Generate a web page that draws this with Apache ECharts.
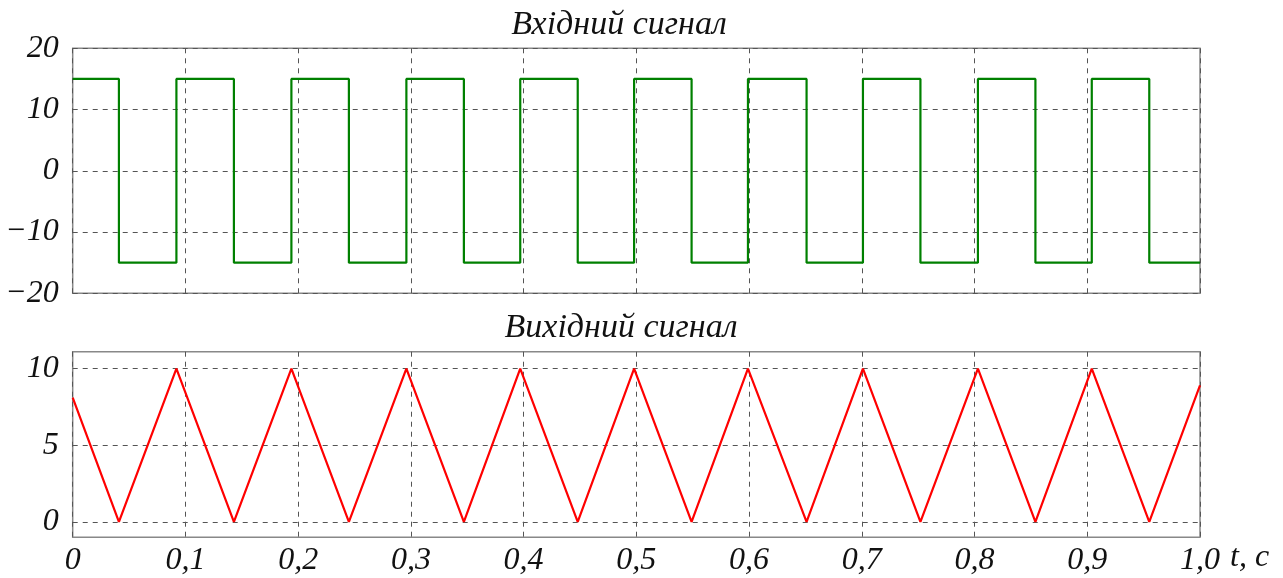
<!DOCTYPE html>
<html>
<head>
<meta charset="utf-8">
<script src="https://cdn.jsdelivr.net/npm/echarts@6/dist/echarts.min.js"></script>
<style>
html,body{margin:0;padding:0;background:#fff;}
#c{width:1283px;height:578px;}
</style>
</head>
<body>
<div id="c"></div>
<script>
// ---- data ----
const inputTimes  = [0, 0.041, 0.092, 0.143, 0.194, 0.245, 0.296, 0.347, 0.397, 0.448, 0.498, 0.549, 0.599, 0.651, 0.701, 0.752, 0.803, 0.854, 0.904, 0.955, 1.0];
const inputValues = [15, -15, 15, -15, 15, -15, 15, -15, 15, -15, 15, -15, 15, -15, 15, -15, 15, -15, 15, -15, -15];
const outputTimes  = [0, 0.041, 0.092, 0.143, 0.194, 0.245, 0.296, 0.347, 0.397, 0.448, 0.498, 0.549, 0.599, 0.651, 0.701, 0.752, 0.803, 0.854, 0.904, 0.955, 1.0];
const outputValues = [8.1, 0, 10, 0, 10, 0, 10, 0, 10, 0, 10, 0, 10, 0, 10, 0, 10, 0, 10, 0, 8.9];
const xTickLabels = ['0', '0,1', '0,2', '0,3', '0,4', '0,5', '0,6', '0,7', '0,8', '0,9', '1,0'];
const topYTicks = [-20, -10, 0, 10, 20];
const topYTickLabels = ['\u221220', '\u221210', '0', '10', '20'];
const bottomYTicks = [0, 5, 10];
const bottomYTickLabels = ['0', '5', '10'];
const titleTop = 'Вхідний сигнал';
const titleBottom = 'Вихідний сигнал';
const xUnitLabel = 't, c';

const FONT = '"Liberation Serif", "DejaVu Serif", serif';
const lbl = {fontFamily: FONT, fontStyle: 'italic', fontSize: 32, color: '#111'};
const gridLine = {show: true, lineStyle: {color: '#555', width: 1, type: [5, 5]}};

const chart = echarts.init(document.getElementById('c'), null, {renderer: 'canvas'});
chart.setOption({
  animation: false,
  backgroundColor: '#fff',
  grid: [
    {left: 72.7, right: 83, top: 48.3, height: 245, show: true, borderColor: '#888', borderWidth: 1.5, backgroundColor: 'transparent'},
    {left: 72.7, right: 83, top: 351.7, height: 185.6, show: true, borderColor: '#888', borderWidth: 1.5, backgroundColor: 'transparent'}
  ],
  xAxis: [
    {gridIndex: 0, type: 'value', min: 0, max: 1, interval: 0.1,
     axisLine: {show: false}, axisTick: {show: false}, axisLabel: {show: false}, splitLine: gridLine},
    {gridIndex: 1, type: 'value', min: 0, max: 1, interval: 0.1,
     axisLine: {show: false}, axisTick: {show: false},
     axisLabel: Object.assign({margin: 7, formatter: v => xTickLabels[Math.round(v * 10)]}, lbl),
     splitLine: gridLine}
  ],
  yAxis: [
    {gridIndex: 0, type: 'value', min: -20, max: 20, interval: 10,
     axisLine: {show: false}, axisTick: {show: false},
     axisLabel: Object.assign({margin: 14, formatter: v => topYTickLabels[topYTicks.indexOf(Math.round(v))]}, lbl),
     splitLine: gridLine},
    {gridIndex: 1, type: 'value', min: -1, max: 11.1,
     axisLine: {show: false}, axisTick: {show: false, customValues: bottomYTicks},
     axisLabel: Object.assign({margin: 14, customValues: bottomYTicks, formatter: v => bottomYTickLabels[bottomYTicks.indexOf(Math.round(v))]}, lbl),
     splitLine: gridLine}
  ],
  series: [
    {type: 'line', xAxisIndex: 0, yAxisIndex: 0, step: 'end', showSymbol: false,
     lineStyle: {color: '#008000', width: 2.2}, data: inputTimes.map((t, i) => [t, inputValues[i]])},
    {type: 'line', xAxisIndex: 1, yAxisIndex: 1, showSymbol: false,
     lineStyle: {color: '#ff0000', width: 2.2}, data: outputTimes.map((t, i) => [t, outputValues[i]])}
  ],
  graphic: [
    {type: 'text', x: 619, y: 25, style: {text: titleTop, font: 'italic 34px ' + FONT, fill: '#111', align: 'center', verticalAlign: 'middle'}},
    {type: 'text', x: 621, y: 328, style: {text: titleBottom, font: 'italic 34px ' + FONT, fill: '#111', align: 'center', verticalAlign: 'middle'}},
    {type: 'text', x: 1230, y: 558, style: {text: xUnitLabel, font: 'italic 32px ' + FONT, fill: '#111', align: 'left', verticalAlign: 'middle'}}
  ]
});
</script>
</body>
</html>
